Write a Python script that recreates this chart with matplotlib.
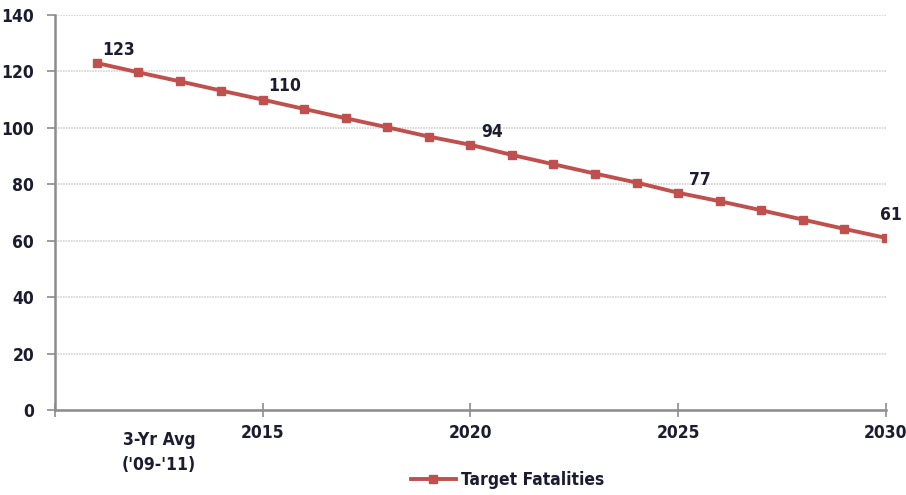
import matplotlib
matplotlib.use("Agg")
import matplotlib.pyplot as plt

years = [2011, 2012, 2013, 2014, 2015, 2016, 2017, 2018, 2019, 2020,
         2021, 2022, 2023, 2024, 2025, 2026, 2027, 2028, 2029, 2030]
fatalities = [123, 119.7, 116.5, 113.2, 110, 106.7, 103.4, 100.2, 96.9, 94,
              90.4, 87.1, 83.8, 80.6, 77, 74.0, 70.8, 67.5, 64.2, 61]
labeled_years = [2011, 2015, 2020, 2025, 2030]
x_ticks = [2010, 2015, 2020, 2025, 2030]
x_tick_labels = ["", "2015", "2020", "2025", "2030"]
y_ticks = [0, 20, 40, 60, 80, 100, 120, 140]
series_name = "Target Fatalities"
baseline_label = "3-Yr Avg\n('09-'11)"

plt.rcParams['font.family'] = ["DejaVu Sans"]
plt.rcParams['font.stretch'] = "condensed"

text_color = "#1c1c30"
line_color = "#c0504d"
fs = 12.5

fig = plt.figure(figsize=(9.06, 4.95), dpi=100)
ax = fig.add_axes([0.0607, 0.1717, 0.917, 0.798])

ax.plot(years, fatalities, color=line_color, lw=2.8, marker="s", ms=5.5,
        label=series_name, zorder=3)

ax.set_xlim(2010, 2030)
ax.set_ylim(0, 140)
ax.set_yticks(y_ticks)
ax.set_xticks(x_ticks)
ax.set_xticklabels(x_tick_labels)

ax.grid(axis="y", color="#d4d4d4", lw=1.2, linestyle=(0, (1, 0.6)))
ax.set_axisbelow(True)
for s in ["top", "right"]:
    ax.spines[s].set_visible(False)
for s in ["left", "bottom"]:
    ax.spines[s].set_color("#8c8c8c")
    ax.spines[s].set_linewidth(1.8)

ax.tick_params(axis="y", length=6, width=1.2, color="#8c8c8c", pad=9,
               labelsize=fs, labelcolor=text_color)
ax.tick_params(axis="x", direction="inout", length=10, width=1.2, color="#8c8c8c",
               pad=5, labelsize=fs, labelcolor=text_color)
for lab in ax.get_xticklabels() + ax.get_yticklabels():
    lab.set_fontweight("bold")
    lab.set_fontstretch("condensed")

ax.text(2012.5, -7.3, baseline_label, ha="center", va="top", fontsize=fs,
        fontweight="bold", fontstretch="condensed", color=text_color,
        linespacing=1.55)

for yr, val in zip(years, fatalities):
    if yr in labeled_years:
        offset = (4, 10) if yr == 2030 else (16, 3)
        ax.annotate(f"{val:.0f}", (yr, val), xytext=offset, textcoords="offset points",
                    ha="center", va="bottom", fontsize=fs, fontweight="bold",
                    fontstretch="condensed", color=text_color)

leg = fig.legend(loc="lower center", bbox_to_anchor=(0.56, -0.02), frameon=False,
                 prop={"size": fs, "weight": "bold", "stretch": "condensed"},
                 handlelength=2.6, handletextpad=0.3)
for t in leg.get_texts():
    t.set_color(text_color)

fig.savefig("out.png", dpi=100)
